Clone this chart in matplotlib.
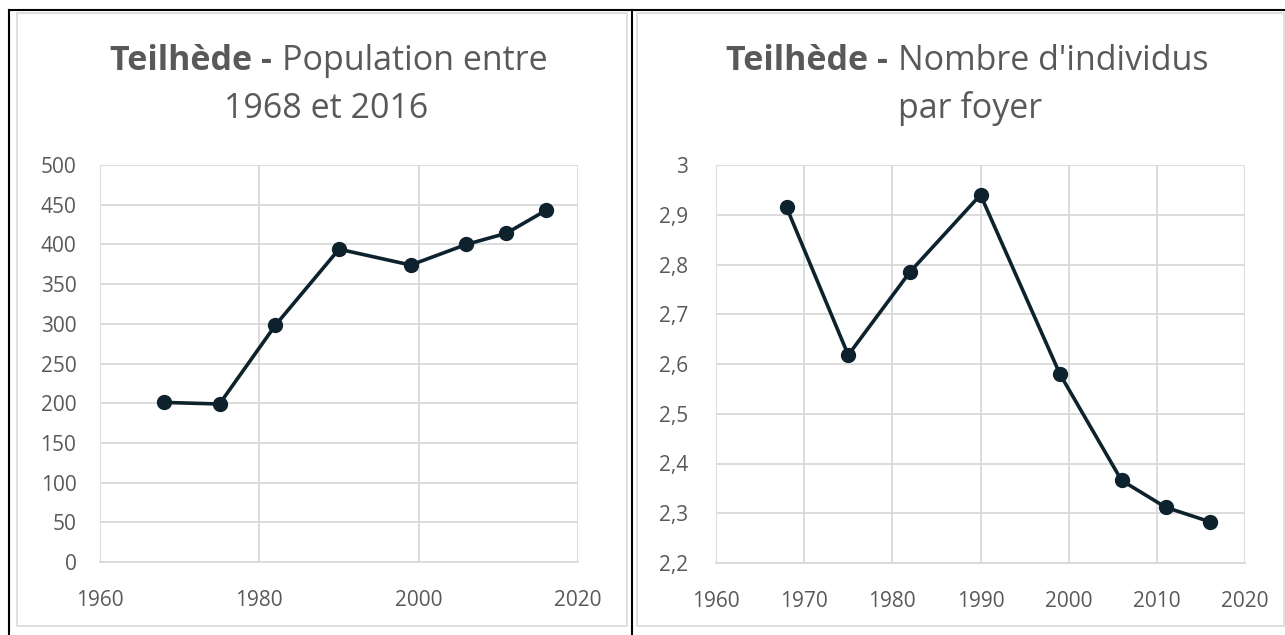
import matplotlib
matplotlib.use("Agg")
import matplotlib.pyplot as plt
from matplotlib.patches import Rectangle
from matplotlib.ticker import FuncFormatter, MultipleLocator

W, H = 1285, 635

# données
annees = [1968, 1975, 1982, 1990, 1999, 2006, 2011, 2016]
population = [201, 199, 298, 394, 374, 400, 414, 443]
individus_foyer = [2.915, 2.618, 2.785, 2.94, 2.58, 2.366, 2.312, 2.283]

plt.rcParams['font.family'] = ['Open Sans', 'DejaVu Sans']
gris_txt = '#595959'
gris_grille = '#d9d9d9'
couleur_ligne = '#0e222e'

fig = plt.figure(figsize=(W / 100, H / 100), dpi=100)
fig.patch.set_facecolor('white')


def box(x0, y0, x1, y1):
    # pixels -> coordonnées figure
    return [x0 / W, 1 - y1 / H, (x1 - x0) / W, (y1 - y0) / H]


def fx(px):
    return px / W


def fy(py):
    return 1 - py / H


# bordures du tableau (noir) et cadres des graphiques (gris)
for x0, y0, x1, y1 in [(17, 13, 627, 626), (637, 13, 1284, 626)]:
    fig.patches.append(Rectangle((fx(x0), fy(y1)), fx(x1) - fx(x0), fy(y0) - fy(y1),
                                 transform=fig.transFigure, fill=False,
                                 edgecolor='#d9d9d9', lw=1.2))
fig.add_artist(plt.Line2D([fx(9), fx(9)], [fy(10), 0], color='black', lw=1.5))
fig.add_artist(plt.Line2D([fx(632), fx(632)], [fy(10), 0], color='black', lw=1.5))
fig.add_artist(plt.Line2D([fx(9), 1], [fy(10), fy(10)], color='black', lw=1.5))


def style_axes(ax, ypad):
    for s in ['left', 'right', 'top']:
        ax.spines[s].set_visible(False)
    ax.spines['bottom'].set_color(gris_grille)
    ax.spines['bottom'].set_linewidth(1.3)
    ax.grid(True, color=gris_grille, lw=1.3)
    ax.set_axisbelow(True)
    ax.tick_params(length=0, labelsize=15, colors=gris_txt)
    ax.tick_params(axis='x', pad=20)
    ax.tick_params(axis='y', pad=ypad)


# graphique 1 : population
ax1 = fig.add_axes(box(100, 165, 578, 562))
ax1.plot(annees, population, color=couleur_ligne, lw=2.6, marker='o', ms=10)
ax1.set_xlim(1960, 2020)
ax1.set_ylim(0, 500)
ax1.xaxis.set_major_locator(MultipleLocator(20))
ax1.yaxis.set_major_locator(MultipleLocator(50))
style_axes(ax1, 17)

# graphique 2 : individus par foyer
ax2 = fig.add_axes(box(716, 165, 1245, 563))
ax2.plot(annees, individus_foyer, color=couleur_ligne, lw=2.6, marker='o', ms=10)
ax2.set_xlim(1960, 2020)
ax2.set_ylim(2.2, 3.0)
ax2.xaxis.set_major_locator(MultipleLocator(10))
ax2.yaxis.set_major_locator(MultipleLocator(0.1))
ax2.yaxis.set_major_formatter(FuncFormatter(lambda v, p: f'{v:g}'.replace('.', ',')))
style_axes(ax2, 20)

# titres (partie en gras + partie normale)
ts = 24.5
fig.text(fx(272), fy(61), 'Teilhède -', ha='right', va='center', fontsize=ts,
         fontweight='bold', color=gris_txt)
fig.text(fx(282), fy(61), 'Population entre', ha='left', va='center', fontsize=ts,
         color=gris_txt)
fig.text(fx(326), fy(109), '1968 et 2016', ha='center', va='center', fontsize=ts,
         color=gris_txt)

fig.text(fx(888), fy(61), 'Teilhède -', ha='right', va='center', fontsize=ts,
         fontweight='bold', color=gris_txt)
fig.text(fx(898), fy(61), "Nombre d'individus", ha='left', va='center', fontsize=ts,
         color=gris_txt)
fig.text(fx(970), fy(109), 'par foyer', ha='center', va='center', fontsize=ts,
         color=gris_txt)

fig.savefig('out.png', dpi=100)
